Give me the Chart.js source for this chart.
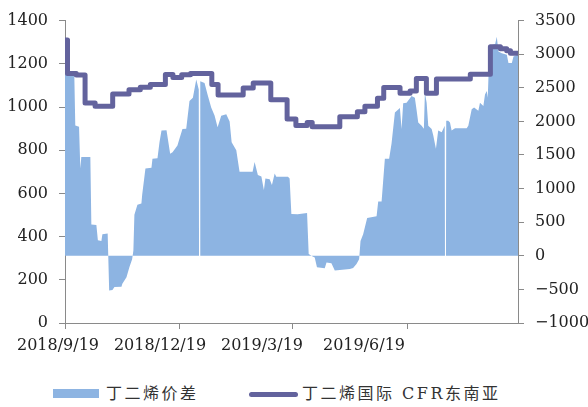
<!DOCTYPE html>
<html>
<head>
<meta charset="utf-8">
<script src="https://cdn.jsdelivr.net/npm/chart.js@4.4.1/dist/chart.umd.min.js"></script>
<style>
  html, body { margin: 0; padding: 0; background: #fff; }
  #wrap { position: relative; width: 588px; height: 407px; }
  #chart { position: absolute; left: 0; top: 0; }
  .lg { position: absolute; font-family: "DejaVu Serif", "Noto Sans CJK SC", serif; font-size: 16px;
        letter-spacing: 2.5px; color: #333; line-height: 18px; white-space: nowrap; }
  .sw { position: absolute; }
</style>
</head>
<body>
<div id="wrap">
  <canvas id="chart" width="588" height="360"></canvas>
  <div class="sw" style="left:53px;top:389px;width:46px;height:9px;background:#8DB4E2;"></div>
  <div class="lg" style="left:106px;top:385px;">丁二烯价差</div>
  <div class="sw" style="left:249px;top:392px;width:49px;height:5px;border-radius:3px;background:#63639D;"></div>
  <div class="lg" style="left:302px;top:385px;">丁二烯国际 CFR东南亚</div>
</div>
<script>
// x values are days counted from 2018/9/19
const xTickDays = [0, 91, 181, 273];
const xTickLabels = ['2018/9/19', '2018/12/19', '2019/3/19', '2019/6/19'];

// 丁二烯价差 (right axis)
const spreadDays = [0, 7.4, 8.2, 11.2, 12.2, 13.0, 20.2, 21.0, 25.0, 26.2, 29.0, 29.8, 34.0, 35.2, 37.8, 39.4, 45.0, 45.7, 49.0, 51.3,
  53.5, 54.5, 55.3, 57.7, 60.9, 61.5, 64.1, 68.9, 69.7, 73.7, 75.3, 76.9, 80.9, 83.8, 85.7, 89.6, 91.2, 93.6, 96.6, 99.2,
  101.9, 104.6, 106.6, 106.8, 107.6, 107.8, 111.2, 113.6, 116.5, 119.2, 121.6, 124.5, 128.5, 131.2, 132.8, 136.5, 139.1, 149.5, 151.1, 153.7,
  156.5, 158.5, 159.7, 163.1, 164.9, 167.1, 168.4, 177.7, 179.0, 180.4, 185.4, 192.9, 194.2, 197.4, 199.0, 200.8, 207.0, 208.4, 212.3, 215.0,
  227.0, 229.6, 232.3, 234.4, 235.5, 237.6, 240.8, 248.3, 249.6, 252.3, 253.5, 254.9, 258.3, 260.2, 262.9, 266.9, 268.2, 269.5, 272.2, 276.2,
  278.8, 280.1, 281.5, 284.2, 286.0, 286.8, 288.2, 289.5, 292.2, 293.5, 295.6, 297.4, 300.2, 302.6, 302.8, 303.6, 303.8, 305.4, 306.8, 308.1,
  310.8, 320.1, 321.4, 324.1, 326.0, 329.4, 330.7, 333.4, 334.7, 336.1, 336.9, 338.2, 340.2, 342.8, 344.1, 345.4, 348.1, 352.1, 353.4, 356.1,
  357.4, 361];
const spreadValues = [2700, 2700, 1940, 1920, 1300, 1470, 1470, 466, 460, 230, 220, 320, 330, -515, -510, -466, -460, -417, -320, -172,
  -50, 80, 610, 760, 780, 907, 1300, 1310, 1446, 1450, 1691, 1863, 1870, 1520, 1540, 1642, 1740, 1887, 1890, 2304,
  2353, 2622, 2475, 0, 0, 2598, 2570, 2402, 2206, 2088, 1912, 2083, 2108, 2000, 1691, 1569, 1250, 1250, 1397, 1201,
  1180, 981, 1152, 1140, 1054, 1226, 1176, 1176, 1150, 623, 620, 637, 25, -10, -25, -172, -186, -98, -110, -220,
  -196, -180, -123, -50, 220, 319, 564, 588, 809, 809, 1103, 1446, 1446, 1667, 2132, 2200, 1887, 2270, 2279, 2378,
  2353, 2181, 1985, 1936, 1890, 2426, 2279, 1936, 1887, 1789, 1593, 1863, 1840, 1936, 0, 0, 2010, 2010, 1985, 1863,
  1897, 1897, 1936, 2181, 2206, 2157, 2279, 2230, 2402, 2451, 2353, 3064, 3137, 3150, 3260, 3039, 3015, 2990, 2868, 2868,
  2966, 2990];

// 丁二烯国际 CFR东南亚 (left axis), value holds from each day until the next
const priceDays = [0, 2, 9, 16, 24, 38, 51, 60, 68, 80, 86, 93, 100, 117, 122, 142, 150, 164, 177, 184,
  193, 197, 219, 233, 239, 249, 254, 267, 275, 280, 288, 296, 323, 339, 347, 352, 355, 361];
const priceValues = [1310, 1155, 1148, 1018, 1004, 1060, 1080, 1092, 1104, 1150, 1137, 1149, 1155, 1104, 1056, 1088, 1111, 1034, 944, 914,
  928, 908, 955, 978, 1004, 1040, 1090, 1064, 1074, 1132, 1064, 1130, 1152, 1279, 1270, 1260, 1249, 1249];

const axisColor = '#8a8a8a';
const tickFont = { family: 'DejaVu Serif', size: 16 };

// x labels sit a little left of their tick marks in the original
const xLabelPlugin = {
  id: 'xLabels',
  afterDraw(chart) {
    const c = chart.ctx;
    const area = chart.chartArea;
    c.save();
    c.font = '16px "DejaVu Serif"';
    c.fillStyle = '#222';
    c.textAlign = 'center';
    c.textBaseline = 'middle';
    xTickLabels.forEach((t, i) => {
      c.fillText(t, area.left - 7 + i * 102, 346);
    });
    c.restore();
  }
};

const ctx = document.getElementById('chart').getContext('2d');
new Chart(ctx, {
  type: 'line',
  data: {
    datasets: [{
      label: '丁二烯价差',
      data: spreadDays.map((d, i) => ({ x: d, y: spreadValues[i] })),
      yAxisID: 'y1',
      fill: 'origin',
      backgroundColor: '#8DB4E2',
      borderWidth: 0,
      pointRadius: 0,
      order: 2
    }, {
      label: '丁二烯国际 CFR东南亚',
      data: priceDays.map((d, i) => ({ x: d, y: priceValues[i] })),
      yAxisID: 'y',
      stepped: true,
      borderColor: '#63639D',
      borderWidth: 5,
      borderJoinStyle: 'round',
      borderCapStyle: 'round',
      pointRadius: 0,
      fill: false,
      order: 1
    }]
  },
  options: {
    responsive: false,
    animation: false,
    layout: { padding: { top: 17, left: 0, right: 0, bottom: 0 } },
    plugins: { legend: { display: false }, tooltip: { enabled: false } },
    scales: {
      x: {
        type: 'linear',
        min: 0,
        max: 361,
        afterBuildTicks: (s) => { s.ticks = xTickDays.map(v => ({ value: v })); },
        afterFit: (s) => { s.height = 37; },
        ticks: { display: false },
        grid: { drawOnChartArea: false, tickLength: 6, color: axisColor },
        border: { color: axisColor }
      },
      y: {
        position: 'left',
        min: 0,
        max: 1400,
        afterFit: (s) => { s.width = 65; },
        ticks: { stepSize: 200, font: tickFont, color: '#222', padding: 11,
          callback: (v) => String(v) },
        grid: { drawOnChartArea: false, tickLength: 6, color: axisColor },
        border: { color: axisColor }
      },
      y1: {
        position: 'right',
        min: -1000,
        max: 3500,
        afterFit: (s) => { s.width = 70; },
        ticks: { stepSize: 500, font: tickFont, color: '#222', padding: 11,
          callback: (v) => (v < 0 ? '\u2212' + Math.abs(v) : String(v)) },
        grid: { drawOnChartArea: false, tickLength: 6, color: axisColor },
        border: { color: axisColor }
      }
    }
  },
  plugins: [xLabelPlugin]
});
</script>
</body>
</html>
